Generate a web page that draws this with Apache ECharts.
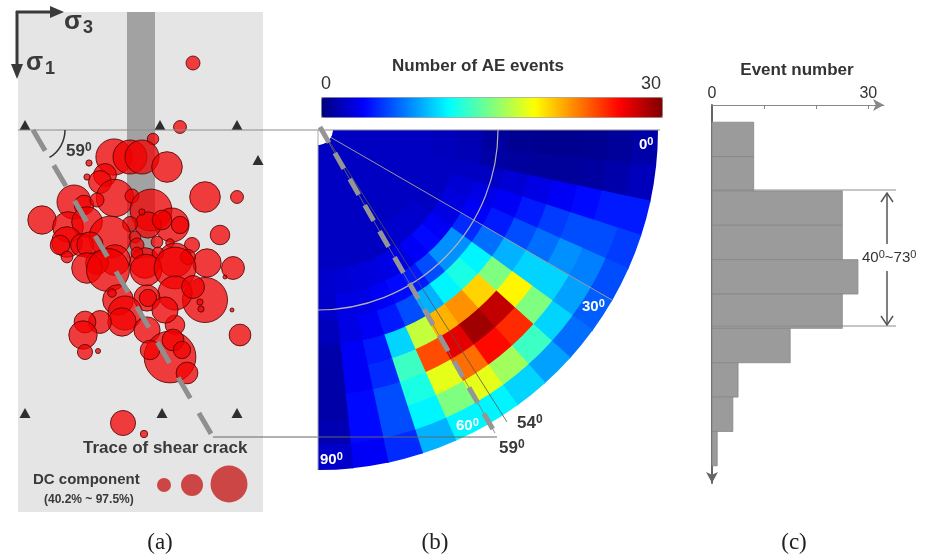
<!DOCTYPE html>
<html><head><meta charset="utf-8">
<script src="https://cdn.jsdelivr.net/npm/echarts@6/dist/echarts.min.js"></script>
<style>html,body{margin:0;padding:0;background:#fff}#c{width:934px;height:559px}</style>
</head><body><div id="c"></div>
<script>
// ---------- Panel (a): AE event locations (mm) and DC component (%) ----------
const aeX = [35,32.4,27,19.2,22.4,24.8,29.8,14.2,17.4,16.4,13.8,19.4,11.2,13.2,22.8,15.8,37.4,43.8,26.6,4.8,10,13.8,30.8,32.4,26,28.8,22.4,24.8,18.4,9.8,8.4,12.8,14.4,40.4,34.8,30.4,27.8,23.4,23.8,43,37.8,31.4,25.4,19.4,15.8,9.8,34,28,23.8,13.8,18,25.6,31.4,41.4,37.4,31.4,35,25.8,26,20,18.8,21.4,20.8,16.4,13.4,13,13.4,16,25.8,31.4,29.4,36.4,36.6,42.8,44.4,30.4,31,32.8,26.4,33.8,21,25.2];
const aeY = [10.2,23,25.4,29,29,29,31,30.2,32.6,34,33,37.2,38,38.6,36.8,37.6,37,37,39.6,41.6,43,42,42.6,42.6,42.6,41.6,42.4,40,45,46,46.6,46.6,46.6,44.6,46.6,46.2,46,45,46.6,51.2,50.2,49.6,50.2,49.6,50.2,49,49,48.2,48.2,51.2,51.6,51.6,51.2,53,57.6,56.2,55,57.2,57.2,57.6,56.2,60.2,62,62,62,64.6,68,67.8,63.6,62.6,59.6,58,59.4,59.6,64.6,69,65.6,67.6,67.6,72.2,82.2,84.4];
const aeDC = [52,50.7,49,78.7,76,76,72,42.7,62.7,62.7,42.7,80,76,58.7,52,52,72,50.7,85.3,69.3,72,72,76,56,66.7,58.7,53.3,42.7,85.3,72,58.7,62.7,66.7,58.7,53.3,45.3,49.3,49.3,52,62.7,69.3,76,72,72,62.7,49.3,53.3,49.3,49.3,72,86.7,73.3,85.3,40,89.3,76,62.7,66.7,56,72,45.3,76,69.3,62.7,61.3,69.3,53.3,41.3,66.7,58.7,66.7,42.7,42.7,40,61.3,97.3,61.3,56,58.7,61.3,65.3,44];
const sensorX = [1.4,28.4,43.8,48,1.4,28.8,43.8];
const sensorY = [22.6,22.6,22.6,29.6,80.2,80.2,80.2];
const boreholeX = [21.8,27.4];
const boreholeY = [0,49.2];

// ---------- Panel (b): AE event density in polar cells (radial ring index, angle in degrees) ----------
const radialEdges = [0,1,2,3,4,5,6,7,8,9,10,11,12,13];
const angleEdges = [0,6,12,18,24,30,36,42,48,54,60,66,72,78,84,90];
const heatRows = [
  [2,2,2,2,2,2,2,2,2,2,2,2,2,2,2],
  [2,2,2,2,2,2,2,2,2,2,2,2,2,2,2],
  [2,2,2,2,2,2,2,2,2,2,2,2,2,2,2],
  [2,2,2,2,2,2,2,2,2,2,2,2,2,2,2],
  [1.8,1.8,2,2,2,2,2.2,2.3,2.3,2.2,2,2,2,2,2],
  [1.5,1.6,2,2.5,2.8,3,3.5,4,3.5,3,3,2.8,2.6,2.5,2.3],
  [0.9,1.1,2,3,3.5,5,8,8,6,4.5,4,3.5,3,3,2.2],
  [0.6,0.9,2.5,3.5,4.5,7,11,12,11,9,6,4.5,3.5,3,1.8],
  [0.5,0.8,3,4.5,6,9,15,20,22,21,17,10,4.5,3.5,1.3],
  [0.5,0.8,3.5,5.5,7,10,19,28,29,27,24,13,5,3.5,1.2],
  [0.6,1,4,6,8,10,15,25,26,23,18,12,6,4,1.2],
  [0.8,1.3,4.5,6,7.5,8.5,10,13,16,18,15,11,6,4,1.5],
  [1.2,1.8,4.5,5.5,6,6.5,7,8.5,10,11,11,9,5,3.5,2.2]
];

// ---------- Panel (c): histogram ----------
const histBins = [1,2,3,4,5,6,7,8,9,10];
const histCounts = [8,8,25,25,28,25,15,5,4,1];

const jet = ['#00007f','#0000ff','#007fff','#00ffff','#7fff7f','#ffff00','#ff7f00','#ff0000','#7f0000'];
const FONT = 'Liberation Sans, Arial, sans-serif';

const heatData = [];
heatRows.forEach((row,i)=>row.forEach((v,j)=>{
  heatData.push([(radialEdges[i]+radialEdges[i+1])/2,(angleEdges[j]+angleEdges[j+1])/2,v,i,j]);
}));

const mctx = document.createElement('canvas').getContext('2d');
function tw(s, size, weight){ mctx.font = weight+' '+size+'px '+FONT; return mctx.measureText(s).width; }
function txt(s, x, y, size, weight, color, align, family){
  return {type:'text', x:x, y:y, z:100, style:{text:s, fontSize:size, fontWeight:weight||'normal', fill:color||'#333', fontFamily:family||FONT, align:align||'left', verticalAlign:'middle'}};
}
// parts: [text, isSuperscript]
function sup(parts, x, y, size, color, weight, align){
  const ss = Math.round(size*0.7);
  let total = 0;
  parts.forEach(p=>{ total += tw(p[0], p[1]?ss:size, weight); });
  let cx = align==='center' ? x-total/2 : (align==='right' ? x-total : x);
  const els = [];
  parts.forEach(p=>{
    const sz = p[1]?ss:size;
    els.push(txt(p[0], cx, p[1] ? y-size*0.2 : y, sz, weight, color, 'left'));
    cx += tw(p[0], sz, weight);
  });
  return els;
}
function line(x1,y1,x2,y2,color,w,dash){
  const st = {stroke:color, lineWidth:w};
  if(dash) st.lineDash = dash;
  return {type:'line', z:90, shape:{x1,y1,x2,y2}, style:st};
}

const graphics = [
  // principal stress arrows
  line(16,12,52,12,'#3a3a3a',3), {type:'polygon', z:90, shape:{points:[[50,6],[64,12],[50,18]]}, style:{fill:'#3a3a3a'}},
  line(17,11,17,66,'#3a3a3a',3), {type:'polygon', z:90, shape:{points:[[11,64],[17,79],[23,64]]}, style:{fill:'#3a3a3a'}},
  txt('σ',64,22,26,'bold','#3a3a3a'), txt('3',83,28,18,'bold','#3a3a3a'),
  txt('σ',26,63,25,'bold','#3a3a3a'), txt('1',45,69,18,'bold','#3a3a3a'),
  // connector lines
  line(18,130,660,130,'#8c8c8c',1),
  line(213,437,497,437,'#666',1),
  // shear trace in (a)
  line(33,130,213,437,'#8f8f8f',5,[24,17]),
  {type:'arc', z:90, shape:{cx:33, cy:130, r:32, startAngle:0, endAngle:59*Math.PI/180}, style:{stroke:'#333', lineWidth:1.5, fill:null}},
  ...sup([['59',false],['0',true]],66,151,17,'#3a3a3a','bold'),
  txt('Trace of shear crack',83,448,17,'bold','#3a3a3a'),
  txt('DC component',33,480,15,'bold','#3a3a3a'),
  txt('(40.2% ~ 97.5%)',44,500,12,'bold','#3a3a3a'),
  {type:'circle', z:90, shape:{cx:164, cy:485, r:7}, style:{fill:'#cc4646'}},
  {type:'circle', z:90, shape:{cx:192, cy:485, r:11}, style:{fill:'#cc4646'}},
  {type:'circle', z:90, shape:{cx:229, cy:484, r:18.5}, style:{fill:'#cc4646'}},
  // panel (b) overlays
  {type:'arc', z:90, shape:{cx:318, cy:130, r:180, startAngle:0, endAngle:Math.PI/2}, style:{stroke:'#b4b4b4', lineWidth:1.2, fill:null}},
  line(331,137.5,612,300,'#9a9a9a',1),
  line(318,130,318,470,'#aaaaaa',1),
  line(322,130,507,422,'#555',0.8),
  line(320,127,495,433,'#777',0.8),
  line(320,127,495,433,'#959595',5,[18,12]),
  ...sup([['0',false],['0',true]],639,145,15,'#ffffff','bold'),
  ...sup([['30',false],['0',true]],582,307,15,'#ffffff','bold'),
  ...sup([['60',false],['0',true]],456,426,15,'#ffffff','bold'),
  ...sup([['90',false],['0',true]],320,460,15,'#ffffff','bold'),
  ...sup([['54',false],['0',true]],517,423,17,'#3a3a3a','bold'),
  ...sup([['59',false],['0',true]],499,448,17,'#3a3a3a','bold'),
  // colorbar texts
  txt('Number of AE events',478,66,17,'bold','#333','center'),
  txt('0',321,84,18,'normal','#333','left'),
  txt('30',661,84,18,'normal','#333','right'),
  // panel (c)
  txt('Event number',797,70,17,'bold','#333','center'),
  line(712,190,896,190,'#8c8c8c',1),
  line(712,326,896,326,'#8c8c8c',1),
  line(887,194,887,244,'#555',1.5), line(887,271,887,324,'#555',1.5),
  {type:'polyline', z:90, shape:{points:[[881,202],[887,193],[893,202]]}, style:{stroke:'#555', lineWidth:1.5, fill:null}},
  {type:'polyline', z:90, shape:{points:[[881,316],[887,325],[893,316]]}, style:{stroke:'#555', lineWidth:1.5, fill:null}},
  ...sup([['40',false],['0',true],['~73',false],['0',true]],862,258,15,'#333','normal'),
  // panel labels
  txt('(a)',160,543,23,'normal','#222','center','Liberation Serif, Times New Roman, serif'),
  txt('(b)',435,543,23,'normal','#222','center','Liberation Serif, Times New Roman, serif'),
  txt('(c)',794,543,23,'normal','#222','center','Liberation Serif, Times New Roman, serif')
];

const chart = echarts.init(document.getElementById('c'));
chart.setOption({
  animation:false,
  backgroundColor:'#ffffff',
  grid:[
    {left:18, top:12, width:245, height:500, show:true, backgroundColor:'#e5e5e5', borderWidth:0},
    {left:712, top:105, width:172, height:378, show:false}
  ],
  xAxis:[
    {gridIndex:0, type:'value', min:0, max:49, show:false},
    {gridIndex:1, type:'value', min:0, max:33, position:'top',
     axisLine:{show:true, lineStyle:{color:'#888', width:1}, symbol:['none','arrow'], symbolSize:[9,11]},
     axisTick:{show:true, inside:true, length:4, customValues:[10,20,30], lineStyle:{color:'#888'}},
     axisLabel:{show:true, customValues:[0,30], fontSize:16, color:'#333', fontFamily:FONT, margin:3},
     splitLine:{show:false}}
  ],
  yAxis:[
    {gridIndex:0, type:'value', min:0, max:100, inverse:true, show:false},
    {gridIndex:1, type:'value', min:0, max:11, inverse:true,
     axisLine:{show:true, lineStyle:{color:'#666', width:2}, symbol:['arrow','none'], symbolSize:[9,11]},
     axisTick:{show:false}, axisLabel:{show:false}, splitLine:{show:false}}
  ],
  polar:{center:[318,130], radius:[15,340]},
  angleAxis:{type:'value', min:0, max:360, startAngle:0, clockwise:true, show:false},
  radiusAxis:{type:'value', min:0, max:13, show:false},
  visualMap:[
    {type:'continuous', seriesIndex:2, dimension:2, min:0, max:30, orient:'horizontal',
     left:321, top:97, itemWidth:20, itemHeight:341, calculable:false, hoverLink:false,
     inRange:{color:jet}, padding:0, borderColor:'#999', borderWidth:1, text:null},
    {type:'continuous', show:false, seriesIndex:0, dimension:2, min:40, max:100,
     inRange:{symbolSize:[4,54]}}
  ],
  series:[
    {type:'scatter', xAxisIndex:0, yAxisIndex:0, z:3,
     data: aeX.map((x,i)=>[x, aeY[i], aeDC[i]]),
     itemStyle:{color:'rgba(242,0,0,0.93)', borderColor:'#4a0000', borderWidth:1}},
    {type:'scatter', xAxisIndex:0, yAxisIndex:0, z:6, symbol:'triangle', symbolSize:[11,10],
     data: sensorX.map((x,i)=>[x, sensorY[i]]), itemStyle:{color:'#000'}},
    {type:'custom', coordinateSystem:'polar', data:heatData, z:2,
     renderItem:function(params, api){
       const i = api.value(3), j = api.value(4);
       const cs = params.coordSys;
       const p0 = api.coord([radialEdges[i], angleEdges[j]]);
       const p1 = api.coord([radialEdges[i+1], angleEdges[j+1]]);
       const R0 = Math.hypot(p0[0]-cs.cx, p0[1]-cs.cy);
       const R1 = Math.hypot(p1[0]-cs.cx, p1[1]-cs.cy);
       const A0 = Math.atan2(p0[1]-cs.cy, p0[0]-cs.cx);
       const A1 = Math.atan2(p1[1]-cs.cy, p1[0]-cs.cx);
       const last = j === angleEdges.length-2, outer = i === radialEdges.length-2;
       const ov = 1.5 / Math.max(R0, 1);
       return {type:'sector', shape:{cx:cs.cx, cy:cs.cy, r0:R0, r:outer?R1:R1+1, startAngle:A0, endAngle:last?A1:A1+ov, clockwise:true},
               style:{fill:api.visual('color')}};
     }},
    {type:'custom', xAxisIndex:1, yAxisIndex:1, z:2,
     data: histBins.map((b,i)=>[histCounts[i], b]),
     renderItem:function(params, api){
       const cnt = api.value(0), b = api.value(1);
       const p0 = api.coord([0, b-0.5]), p1 = api.coord([cnt, b+0.5]);
       return {type:'rect', shape:{x:p0[0], y:Math.min(p0[1],p1[1]), width:p1[0]-p0[0], height:Math.abs(p1[1]-p0[1])},
               style:{fill:'#9b9b9b', stroke:'#868686', lineWidth:0.8}};
     }},
    {type:'scatter', xAxisIndex:0, yAxisIndex:0, z:5, data:[], silent:true,
     markArea:{silent:true, itemStyle:{color:'rgba(0,0,0,0.29)'},
       data:[[{coord:[boreholeX[0], boreholeY[0]]},{coord:[boreholeX[1], boreholeY[1]]}]]}}
  ],
  graphic: graphics
});
</script></body></html>
